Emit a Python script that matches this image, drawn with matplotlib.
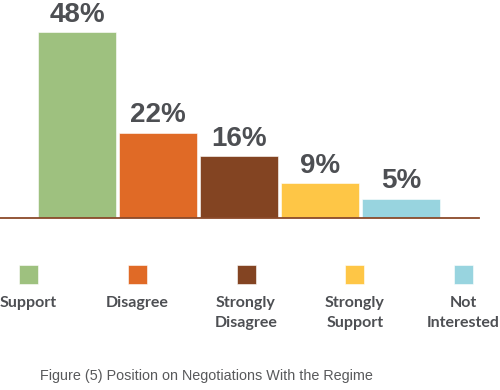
import matplotlib.pyplot as plt

categories = ['Support', 'Disagree', 'Strongly\nDisagree', 'Strongly\nSupport', 'Not\nInterested']
values = [48, 22, 16, 9, 5]
colors = ['#9EC17F', '#E06A26', '#834422', '#FEC646', '#98D4DF']
caption = 'Figure (5) Position on Negotiations With the Regime'

W, H = 500, 390
fig = plt.figure(figsize=(W / 100, H / 100), dpi=100)

# --- bars: axes spans x 0..479 px, y 0..218 px from top ---
ax = fig.add_axes([0, (H - 218) / H, 479 / W, 218 / H])
x = list(range(len(values)))
ax.bar(x, values, width=0.96, color=colors, edgecolor='white', linewidth=0.4)
ax.set_xlim(-77 / 81, (479 - 77) / 81)
ax.set_ylim(0, 48 * 218 / 186)
for xi, v in zip(x, values):
    ax.annotate(f'{v}%', (xi, v), xytext=(0, 7.5), textcoords='offset points',
                ha='center', va='baseline', fontsize=20, fontweight='bold',
                family='Liberation Sans', color='#4D4F53', annotation_clip=False)
ax.axhline(0, color='#8B4A2A', lw=1.3, clip_on=False)
ax.axis('off')

# --- legend row ---
lg = fig.add_axes([0, (H - 335) / H, 1, 80 / H])
lg.set_xlim(-28.5 / 108.75, (500 - 28.5) / 108.75)
lg.set_ylim(80, 0)
lg.bar(x, [19] * len(x), bottom=10, width=19 / 108.75, color=colors,
       edgecolor='white', linewidth=0.4)
for xi, lab in zip(x, categories):
    lg.text(xi, 41, lab, ha='center', va='top', fontsize=11.5,
            fontweight='bold', family='Lato', color='#4D4F53',
            linespacing=1.55)
lg.axis('off')

fig.text(40 / W, 1 - 376 / H, caption, ha='left', va='center',
         fontsize=10.4, family='Liberation Sans', color='#58595B')

fig.savefig('out.png', dpi=100)
